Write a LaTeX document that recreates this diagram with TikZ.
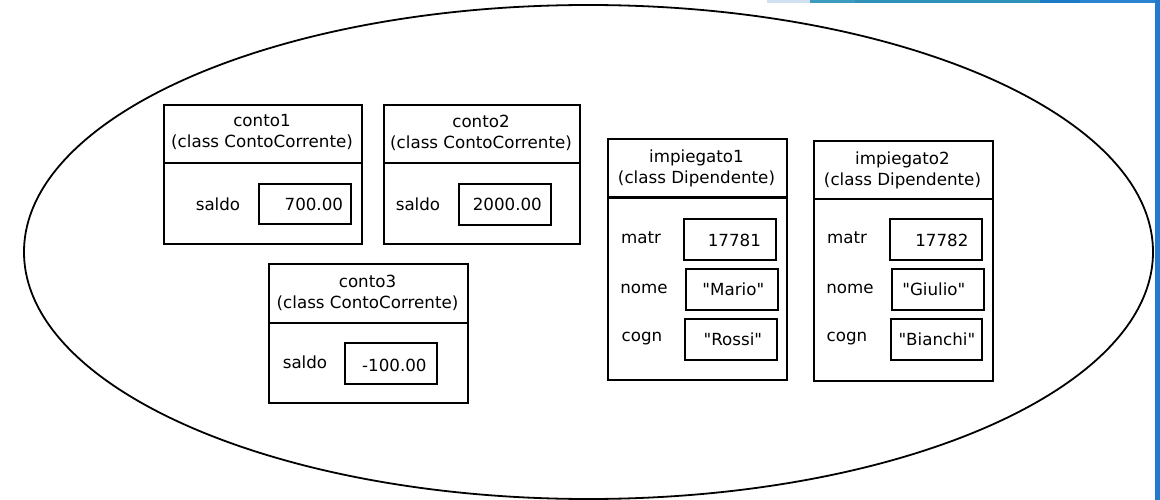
\documentclass[tikz,border=0pt]{standalone}
\usepackage{fontspec}
\setmainfont{DejaVu Sans}[Ligatures=TeXOff]
\usetikzlibrary{shapes.geometric}
\newcommand\fsz{\fontsize{16.7}{21}\selectfont}
\definecolor{edgeblue}{HTML}{2279CF}
\definecolor{stripA}{HTML}{CFE1F1}
\definecolor{stripB}{HTML}{3D9BC0}
\definecolor{stripC}{HTML}{2F90B9}
\definecolor{stripD}{HTML}{1B7AC6}
\definecolor{stripE}{HTML}{2A84D2}
\tikzset{
  objbox/.style={draw, line width=1.8pt, inner sep=0pt, anchor=north west},
  valbox/.style={draw, line width=1.7pt, inner sep=0pt, anchor=north west, minimum width=92pt, minimum height=41pt},
  txt/.style={font=\fsz, inner sep=0pt, align=center},
  divider/.style={line width=1.8pt}
}
\begin{document}
\begin{tikzpicture}[x=1pt,y=-1pt]
\useasboundingbox (0,0) rectangle (1160,500);
% window edge strips
\fill[stripA] (767,0) rectangle (810,3);
\fill[stripB] (810,0) rectangle (855,3);
\fill[stripC] (855,0) rectangle (1040,3);
\fill[stripD] (1040,0) rectangle (1080,3);
\fill[stripE] (1080,0) rectangle (1160,3);
\fill[edgeblue] (1155,0) rectangle (1160,500);

% heap ellipse
\node[ellipse, draw, line width=1.8pt, minimum width=1129pt, minimum height=494pt, inner sep=0pt] (heap) at (588.5,252) {};

% conto1
\node[objbox, minimum width=198pt, minimum height=139pt] (c1) at (163,104) {};
\draw[divider] ([yshift=-59pt]c1.north west) -- ([yshift=-59pt]c1.north east);
\node[txt] (c1t) at (262,132.5) {conto1\\(class ContoCorrente)};
\node[txt] (c1l) at (218,204) {saldo};
\node[valbox, minimum height=40pt] (c1v) at (258,183) {};
\node[txt] (c1x) at ([xshift=9pt,yshift=-1pt]c1v.center) {700.00};

% conto2
\node[objbox, minimum width=196pt, minimum height=139pt] (c2) at (383,104) {};
\draw[divider] ([yshift=-59pt]c2.north west) -- ([yshift=-59pt]c2.north east);
\node[txt] (c2t) at (481,132.5) {conto2\\(class ContoCorrente)};
\node[txt] (c2l) at (418,204) {saldo};
\node[valbox] (c2v) at (458,183) {};
\node[txt] (c2x) at ([xshift=2.5pt]c2v.center) {2000.00};

% conto3
\node[objbox, minimum width=199pt, minimum height=139pt] (c3) at (268,263) {};
\draw[divider] ([yshift=-60pt]c3.north west) -- ([yshift=-60pt]c3.north east);
\node[txt] (c3t) at (367.5,293) {conto3\\(class ContoCorrente)};
\node[txt] (c3l) at (305,362) {saldo};
\node[valbox] (c3v) at (344,342) {};
\node[txt] (c3x) at ([xshift=3.5pt,yshift=-2pt]c3v.center) {-100.00};

% impiegato1
\node[objbox, minimum width=179pt, minimum height=241pt] (i1) at (607,138) {};
\draw[line width=3pt] ([yshift=-60pt]i1.north west) -- ([yshift=-60pt]i1.north east);
\node[txt] (i1t) at (696.5,168) {impiegato1\\(class Dipendente)};
\node[txt] (i1ml) at (641,238) {matr};
\node[valbox] (i1m) at (683,218) {};
\node[txt] (i1mx) at ([xshift=4.5pt,yshift=-1.5pt]i1m.center) {17781};
\node[txt] (i1nl) at (644,289) {nome};
\node[valbox] (i1n) at (685,268) {};
\node[txt] (i1nx) at ([xshift=1.5pt]i1n.center) {"Mario"};
\node[txt] (i1cl) at (642,339) {cogn};
\node[valbox] (i1c) at (684,318) {};
\node[txt] (i1cx) at ([xshift=2pt]i1c.center) {"Rossi"};

% impiegato2
\node[objbox, minimum width=179pt, minimum height=240pt] (i2) at (813,140) {};
\draw[divider] ([yshift=-59pt]i2.north west) -- ([yshift=-59pt]i2.north east);
\node[txt] (i2t) at (902.5,170) {impiegato2\\(class Dipendente)};
\node[txt] (i2ml) at (847,238) {matr};
\node[valbox] (i2m) at (889,218) {};
\node[txt] (i2mx) at ([xshift=6pt,yshift=-1.5pt]i2m.center) {17782};
\node[txt] (i2nl) at (850,289) {nome};
\node[valbox] (i2n) at (891,268) {};
\node[txt] (i2nx) at ([xshift=-4pt]i2n.center) {"Giulio"};
\node[txt] (i2cl) at (847,339) {cogn};
\node[valbox, minimum width=91pt] (i2c) at (890,318) {};
\node[txt] (i2cx) at ([xshift=0.5pt]i2c.center) {"Bianchi"};
\end{tikzpicture}
\end{document}
